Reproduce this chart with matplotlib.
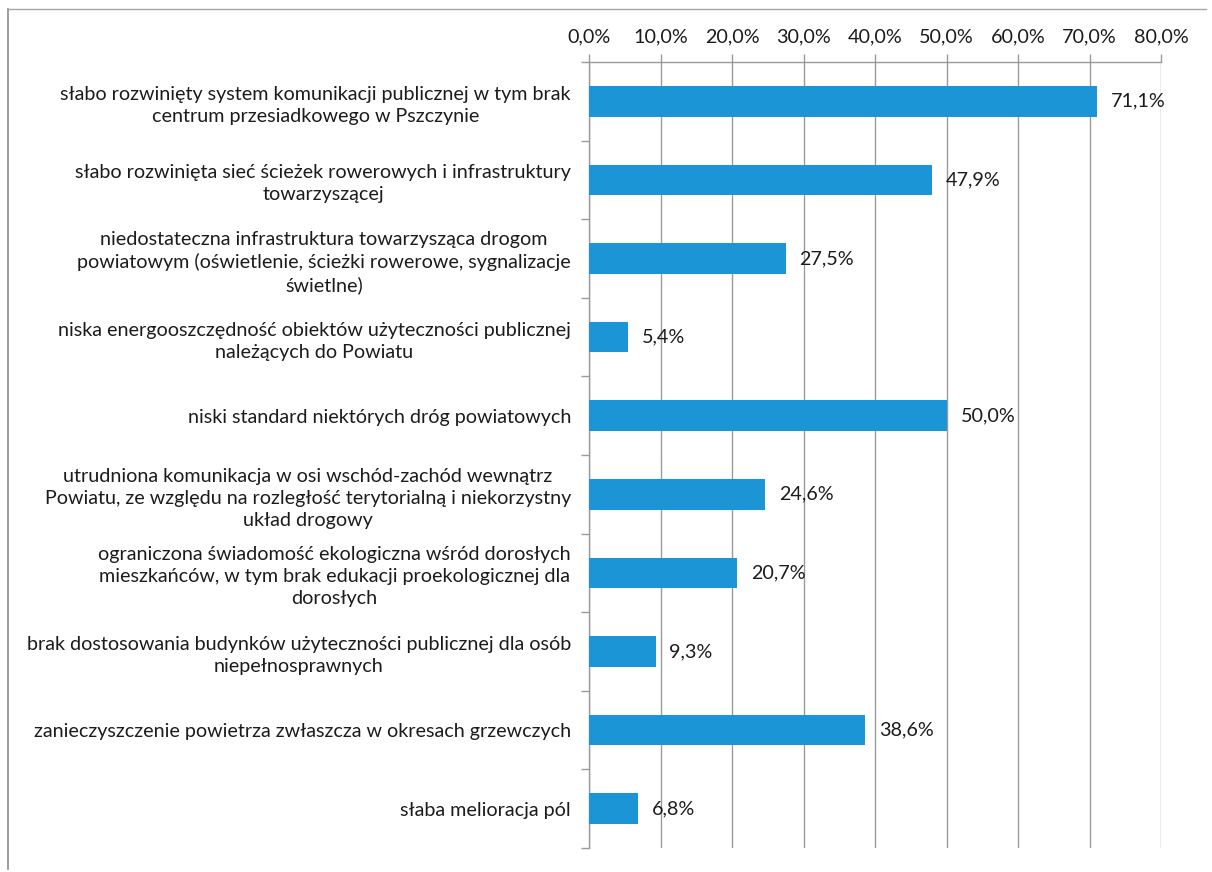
import matplotlib
matplotlib.use("Agg")
import matplotlib.pyplot as plt
import matplotlib.ticker as ticker
from matplotlib.lines import Line2D

plt.rcParams['font.family'] = ['Lato', 'DejaVu Sans']

categories = [
    "słabo rozwinięty system komunikacji publicznej w tym brak\ncentrum przesiadkowego w Pszczynie",
    "słabo rozwinięta sieć ścieżek rowerowych i infrastruktury\ntowarzyszącej",
    "niedostateczna infrastruktura towarzysząca drogom\npowiatowym (oświetlenie, ścieżki rowerowe, sygnalizacje\nświetlne)",
    "niska energooszczędność obiektów użyteczności publicznej\nnależących do Powiatu",
    "niski standard niektórych dróg powiatowych",
    "utrudniona komunikacja w osi wschód-zachód wewnątrz\nPowiatu, ze względu na rozległość terytorialną i niekorzystny\nukład drogowy",
    "ograniczona świadomość ekologiczna wśród dorosłych\nmieszkańców, w tym brak edukacji proekologicznej dla\ndorosłych",
    "brak dostosowania budynków użyteczności publicznej dla osób\nniepełnosprawnych",
    "zanieczyszczenie powietrza zwłaszcza w okresach grzewczych",
    "słaba melioracja pól",
]
values = [71.1, 47.9, 27.5, 5.4, 50.0, 24.6, 20.7, 9.3, 38.6, 6.8]

bar_color = '#1b95d5'
grid_color = '#9a9a9a'
text_color = '#1c1c1c'
fs = 14.2

fig = plt.figure(figsize=(12.12, 8.72), dpi=100)
ax = fig.add_axes([0.486, 0.0275, 0.472, 0.9014])

pos = list(range(len(values)))
ax.barh(pos, values, height=0.39, color=bar_color, zorder=3)

ax.set_xlim(0, 80)
ax.set_ylim(len(values) - 0.5, -0.5)

# x axis on top, percent labels with decimal comma
ax.xaxis.set_major_locator(ticker.MultipleLocator(10))
ax.xaxis.set_major_formatter(ticker.FuncFormatter(lambda v, p: f"{v:.1f}%".replace('.', ',')))
ax.xaxis.tick_top()
ax.tick_params(axis='x', which='major', direction='out', length=6, width=1,
               color=grid_color, pad=6, labelsize=fs, labelcolor=text_color)
ax.grid(axis='x', color=grid_color, linewidth=1, zorder=0)

# tick marks between categories, labels at category centres
ax.set_yticks([i - 0.5 for i in range(len(values) + 1)])
ax.set_yticklabels([])
ax.set_yticks(pos, minor=True)
ax.set_yticklabels(categories, minor=True, ha='right', multialignment='center',
                   fontsize=fs, color=text_color, linespacing=1.36)
ax.tick_params(axis='y', which='major', direction='out', length=6, width=1, color=grid_color)
ax.tick_params(axis='y', which='minor', length=0, pad=13)

for side in ('bottom', 'right'):
    ax.spines[side].set_visible(False)
for side in ('top', 'left'):
    ax.spines[side].set_color(grid_color)
    ax.spines[side].set_linewidth(1)

for y, v in zip(pos, values):
    ax.annotate(f"{v:.1f}%".replace('.', ','), xy=(v, y), xytext=(10, 0),
                textcoords='offset points', ha='left', va='center',
                fontsize=fs, color=text_color, zorder=4)

# outer frame lines
fig.add_artist(Line2D([0.007, 0.007], [0.004, 0.99], transform=fig.transFigure,
                      color='#8c8c8c', linewidth=1.2))
fig.add_artist(Line2D([0.007, 0.995], [0.99, 0.99], transform=fig.transFigure,
                      color='#a5a5a5', linewidth=1.0))

fig.savefig('out.png', dpi=100, facecolor='white')
